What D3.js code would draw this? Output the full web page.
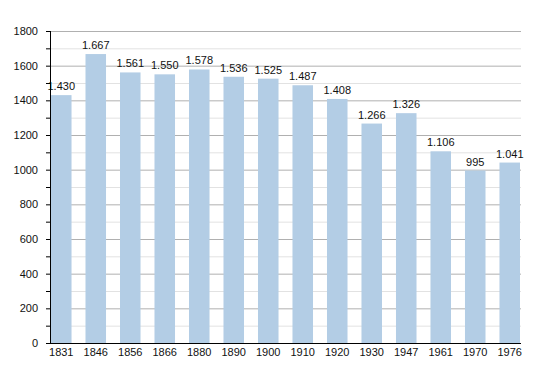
<!DOCTYPE html>
<html>
<head>
<meta charset="utf-8">
<script src="https://cdn.jsdelivr.net/npm/d3@7"></script>
<style>
	body { margin: 0; background: #fff; }
	text { font-family: "Liberation Sans", Arial, sans-serif; fill: #111; }
</style>
</head>
<body>
<svg id="chart" width="550" height="373"></svg>
<script>
const years = ["1831", "1846", "1856", "1866", "1880", "1890", "1900", "1910", "1920", "1930", "1947", "1961", "1970", "1976"];
const population = [1430, 1667, 1561, 1550, 1578, 1536, 1525, 1487, 1408, 1266, 1326, 1106, 995, 1041];
const majorTicks = [0, 200, 400, 600, 800, 1000, 1200, 1400, 1600, 1800];
const minorTicks = [100, 300, 500, 700, 900, 1100, 1300, 1500, 1700];

const svg = d3.select("#chart");
const plotLeft = 50, plotRight = 521, plotTop = 31, plotBottom = 343;

const x = d3.scaleBand()
	.domain(years)
	.range([51, 520])
	.paddingInner(0.405)
	.paddingOuter(0);

const y = d3.scaleLinear()
	.domain([0, 1800])
	.range([plotBottom, plotTop]);

// grid
svg.append("g")
	.selectAll("line")
	.data(minorTicks)
	.join("line")
	.attr("x1", plotLeft).attr("x2", plotRight)
	.attr("y1", d => y(d) + 0.5).attr("y2", d => y(d) + 0.5)
	.attr("stroke", "#e2e2e2");

svg.append("g")
	.selectAll("line")
	.data(majorTicks.filter(d => d > 0))
	.join("line")
	.attr("x1", plotLeft).attr("x2", plotRight)
	.attr("y1", d => y(d) + 0.5).attr("y2", d => y(d) + 0.5)
	.attr("stroke", "#b0b0b0");

// bars
svg.append("g")
	.selectAll("rect")
	.data(population)
	.join("rect")
	.attr("x", (d, i) => x(years[i]))
	.attr("width", x.bandwidth())
	.attr("y", d => y(d))
	.attr("height", d => y(0) - y(d))
	.attr("fill", "#b3cde5");

// value labels
const fmt = d => d >= 1000 ? Math.floor(d / 1000) + "." + String(d % 1000).padStart(3, "0") : String(d);
svg.append("g")
	.selectAll("text")
	.data(population)
	.join("text")
	.attr("x", (d, i) => x(years[i]) + x.bandwidth() / 2)
	.attr("y", d => y(d) - 5)
	.attr("text-anchor", "middle")
	.attr("font-size", 11)
	.text(fmt);

// y axis
const yAxis = svg.append("g");
yAxis.append("line")
	.attr("x1", plotLeft + 0.5).attr("x2", plotLeft + 0.5)
	.attr("y1", plotTop).attr("y2", plotBottom)
	.attr("stroke", "#000");
yAxis.selectAll("line.tick")
	.data(majorTicks.concat(minorTicks))
	.join("line")
	.classed("tick", true)
	.attr("x1", plotLeft - 4).attr("x2", plotLeft)
	.attr("y1", d => y(d) + 0.5).attr("y2", d => y(d) + 0.5)
	.attr("stroke", "#000");
yAxis.selectAll("text")
	.data(majorTicks)
	.join("text")
	.attr("x", 38)
	.attr("y", d => y(d) + 4)
	.attr("text-anchor", "end")
	.attr("font-size", 11)
	.text(d => d);

// x axis
svg.append("line")
	.attr("x1", plotLeft).attr("x2", plotRight)
	.attr("y1", plotBottom + 0.5).attr("y2", plotBottom + 0.5)
	.attr("stroke", "#000");
svg.append("g")
	.selectAll("text")
	.data(years)
	.join("text")
	.attr("x", d => x(d) + x.bandwidth() / 2)
	.attr("y", plotBottom + 13)
	.attr("text-anchor", "middle")
	.attr("font-size", 11)
	.text(d => d);
</script>
</body>
</html>
